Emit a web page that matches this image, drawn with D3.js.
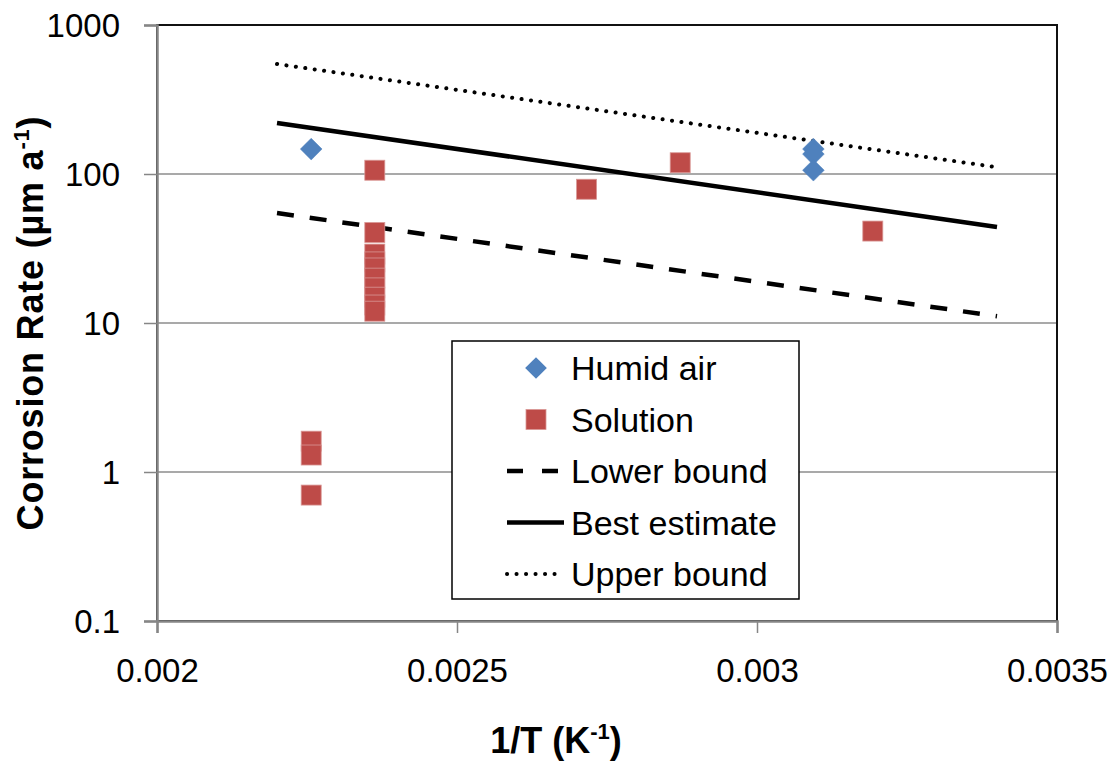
<!DOCTYPE html>
<html>
<head>
<meta charset="utf-8">
<script src="https://cdn.jsdelivr.net/npm/d3@7"></script>
<style>
    body { margin: 0; background: #fff; }
    text { font-family: "Liberation Sans", Arial, sans-serif; fill: #000; }
</style>
</head>
<body>
<div id="container"></div>
<script>
var width = 1112,
    height = 761;

// Humid air (diamonds)
var humidX = [0.002257, 0.003094, 0.003094, 0.003094];
var humidY = [147, 147, 136, 106];

// Solution (squares)
var solutionX = [0.002363, 0.002363, 0.002363, 0.002363, 0.002363, 0.002363, 0.002363, 0.002363, 0.002363, 0.002363,
    0.002257, 0.002257, 0.002257, 0.002716, 0.002872, 0.003193];
var solutionY = [106, 40.5, 29, 25.7, 23.4, 20, 17.2, 14.9, 13.2, 12,
    1.61, 1.3, 0.7, 79, 119, 41.4];

// fitted lines, end points
var lineX = [0.0022, 0.0034];
var lowerY = [54.7, 11.1];
var bestY = [220, 44.1];
var upperY = [547, 111];

var xTicks = [0.002, 0.0025, 0.003, 0.0035];
var xTickLabels = ["0.002", "0.0025", "0.003", "0.0035"];
var yTicks = [0.1, 1, 10, 100, 1000];
var yTickLabels = ["0.1", "1", "10", "100", "1000"];

var margin = {left: 157, top: 25, right: 55, bottom: 140};

var svg = d3.select("#container")
    .append("svg")
    .attr("width", width)
    .attr("height", height);

svg.append("rect")
    .attr("width", width)
    .attr("height", height)
    .attr("fill", "#fff");

var x = d3.scaleLinear()
    .domain([0.002, 0.0035])
    .range([margin.left, width - margin.right]);

var y = d3.scaleLog()
    .domain([0.1, 1000])
    .range([height - margin.bottom, margin.top]);

// gridlines
svg.append("g")
    .selectAll("line")
    .data(yTicks.slice(1, 4))
    .enter()
    .append("line")
    .attr("x1", x(0.002))
    .attr("x2", x(0.0035))
    .attr("y1", function (d) { return y(d); })
    .attr("y2", function (d) { return y(d); })
    .attr("stroke", "#8c8c8c")
    .attr("stroke-width", 1.5);

// plot area border
svg.append("rect")
    .attr("x", x(0.002))
    .attr("y", y(1000))
    .attr("width", x(0.0035) - x(0.002))
    .attr("height", y(0.1) - y(1000))
    .attr("fill", "none")
    .attr("stroke", "#111")
    .attr("stroke-width", 2);

// axes
var yAxis = svg.append("g")
    .attr("transform", "translate(" + x(0.002) + ",0)")
    .call(d3.axisLeft(y).tickValues(yTicks)
        .tickFormat(function (d, i) { return yTickLabels[i]; })
        .tickSize(13).tickPadding(24));

var xAxis = svg.append("g")
    .attr("transform", "translate(0," + y(0.1) + ")")
    .call(d3.axisBottom(x).tickValues(xTicks)
        .tickFormat(function (d, i) { return xTickLabels[i]; })
        .tickSize(12).tickPadding(26));

[yAxis, xAxis].forEach(function (g) {
    g.select(".domain").attr("stroke", "#868686").attr("stroke-width", 2.5);
    g.selectAll(".tick line").attr("stroke", "#868686").attr("stroke-width", 1.5);
    g.selectAll(".tick text")
        .attr("font-size", 33)
        .attr("font-family", "Liberation Sans, Arial, sans-serif")
        .attr("fill", "#000");
});
yAxis.selectAll(".tick text").attr("dy", "0.34em");
xAxis.selectAll(".tick text").attr("dy", "0.71em");

// lines
var line = d3.line()
    .x(function (d) { return x(d[0]); })
    .y(function (d) { return y(d[1]); });

var lineSeries = [
    {vals: lowerY, dash: "17,16", cap: "butt", w: 4.5},
    {vals: bestY, dash: null, cap: "butt", w: 4.5},
    {vals: upperY, dash: "0.1,9.4", cap: "round", w: 4}
];

svg.append("g")
    .selectAll("path")
    .data(lineSeries)
    .enter()
    .append("path")
    .attr("d", function (d) {
        return line(lineX.map(function (v, i) { return [v, d.vals[i]]; }));
    })
    .attr("fill", "none")
    .attr("stroke", "#000")
    .attr("stroke-width", function (d) { return d.w; })
    .attr("stroke-linecap", function (d) { return d.cap; })
    .attr("stroke-dasharray", function (d) { return d.dash; });

// markers
var diamond = d3.symbol().type(d3.symbolDiamond2).size(300);

svg.append("g")
    .selectAll("path")
    .data(humidX)
    .enter()
    .append("path")
    .attr("d", diamond)
    .attr("transform", function (d, i) {
        return "translate(" + x(d) + "," + y(humidY[i]) + ")";
    })
    .attr("fill", "#4F81BD")
    .attr("stroke", "#4F81BD")
    .attr("stroke-width", 0.5);

svg.append("g")
    .selectAll("rect")
    .data(solutionX)
    .enter()
    .append("rect")
    .attr("x", function (d) { return x(d) - 10; })
    .attr("y", function (d, i) { return y(solutionY[i]) - 10; })
    .attr("width", 20)
    .attr("height", 20)
    .attr("fill", "#BE4B48")
    .attr("stroke", "#D99795")
    .attr("stroke-width", 0.8);

// legend
var legend = svg.append("g");

legend.append("rect")
    .attr("x", 452)
    .attr("y", 341)
    .attr("width", 347)
    .attr("height", 258)
    .attr("fill", "#fff")
    .attr("stroke", "#000")
    .attr("stroke-width", 1.5);

var legendItems = ["Humid air", "Solution", "Lower bound", "Best estimate", "Upper bound"];
var legendY = d3.scaleLinear().domain([0, 4]).range([368, 574]);

legend.selectAll("text")
    .data(legendItems)
    .enter()
    .append("text")
    .attr("x", 571)
    .attr("y", function (d, i) { return legendY(i) + 12; })
    .attr("font-size", 34)
    .text(function (d) { return d; });

legend.append("path")
    .attr("d", d3.symbol().type(d3.symbolDiamond2).size(300))
    .attr("transform", "translate(536," + legendY(0) + ")")
    .attr("fill", "#4F81BD");

legend.append("rect")
    .attr("x", 526)
    .attr("y", legendY(1) - 10)
    .attr("width", 20)
    .attr("height", 20)
    .attr("fill", "#BE4B48")
    .attr("stroke", "#D99795")
    .attr("stroke-width", 0.8);

legend.selectAll(".lg-line")
    .data(lineSeries)
    .enter()
    .append("line")
    .attr("class", "lg-line")
    .attr("x1", 507)
    .attr("x2", function (d, i) { return i == 0 ? 558 : (i == 1 ? 564 : 556); })
    .attr("y1", function (d, i) { return legendY(i + 2); })
    .attr("y2", function (d, i) { return legendY(i + 2); })
    .attr("stroke", "#000")
    .attr("stroke-width", function (d) { return d.w; })
    .attr("stroke-linecap", function (d) { return d.cap; })
    .attr("stroke-dasharray", function (d) { return d.dash == null ? null : (d.cap == "round" ? "0.1,9.4" : "16,19"); });

// axis titles
var xTitle = svg.append("text")
    .attr("x", 556)
    .attr("y", 753)
    .attr("text-anchor", "middle")
    .attr("font-size", 36)
    .attr("font-weight", "bold");
xTitle.append("tspan").text("1/T (K");
xTitle.append("tspan").attr("font-size", 22).attr("dy", -14).text("-1");
xTitle.append("tspan").attr("dy", 14).text(")");

var yTitle = svg.append("text")
    .attr("transform", "translate(43,323) rotate(-90)")
    .attr("text-anchor", "middle")
    .attr("font-size", 36)
    .attr("font-weight", "bold")
    .attr("letter-spacing", 0.8);
yTitle.append("tspan").text("Corrosion Rate (\u00b5m a");
yTitle.append("tspan").attr("font-size", 22).attr("dy", -14).text("-1");
yTitle.append("tspan").attr("dy", 14).text(")");
</script>
</body>
</html>
